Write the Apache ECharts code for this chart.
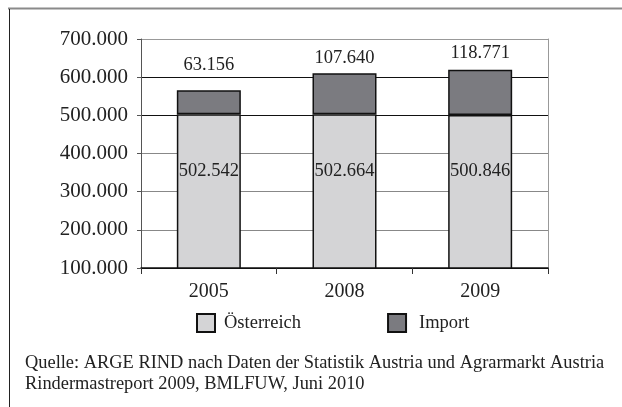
<!DOCTYPE html>
<html>
<head>
<meta charset="utf-8">
<script src="https://cdn.jsdelivr.net/npm/echarts@6/dist/echarts.min.js"></script>
<style>
html,body{margin:0;padding:0;background:#fff;}
#c{width:622px;height:407px;}
</style>
</head>
<body>
<div id="c"></div>
<script>
var categories = ['2005', '2008', '2009'];
var oesterreich = [502542, 502664, 500846];
var importe = [63156, 107640, 118771];
var yMin = 100000, yMax = 700000, yStep = 100000;
var seriesNames = ['Österreich', 'Import'];
var sourceLines = [
  'Quelle: ARGE RIND nach Daten der Statistik Austria und Agrarmarkt Austria',
  'Rindermastreport 2009, BMLFUW, Juni 2010'
];

function fmt(v) {
  return String(Math.round(v)).replace(/\B(?=(\d{3})+(?!\d))/g, '.');
}

var FONT = '"Liberation Serif", "Times New Roman", serif';
var importLabelDist = [16, 6, 7];

var chart = echarts.init(document.getElementById('c'), null, {renderer: 'canvas'});
chart.setOption({
  animation: false,
  backgroundColor: '#fff',
  textStyle: {fontFamily: FONT},
  grid: {left: 141, right: 74, top: 39, bottom: 139, containLabel: false},
  title: {
    text: sourceLines.join('\n'),
    left: 25, top: 353, padding: 0,
    textStyle: {fontFamily: FONT, fontSize: 18.4, fontWeight: 'normal', color: '#222', lineHeight: 21}
  },
  legend: {
    left: 196, top: 313, padding: 0,
    itemWidth: 18, itemHeight: 18, itemGap: 86,
    icon: 'rect',
    textStyle: {fontFamily: FONT, fontSize: 18.5, color: '#222'},
    data: [
      {name: seriesNames[0], textStyle: {padding: [0, 0, 0, 4]}},
      {name: seriesNames[1], textStyle: {padding: [4, 0, 0, 8]}}
    ]
  },
  xAxis: {
    type: 'category',
    data: categories,
    boundaryGap: true,
    axisLine: {lineStyle: {color: '#111', width: 1.5}},
    axisTick: {show: true, length: 6, lineStyle: {color: '#333'}},
    axisLabel: {fontFamily: FONT, fontSize: 20, color: '#222', margin: 14}
  },
  yAxis: [{
    type: 'value',
    min: yMin, max: yMax, interval: yStep,
    axisLine: {show: true, lineStyle: {color: '#555', width: 1}},
    axisTick: {show: true, length: 4, lineStyle: {color: '#555'}},
    axisLabel: {fontFamily: FONT, fontSize: 21, color: '#222', margin: 13, formatter: fmt},
    splitLine: {show: true, lineStyle: {color: ['#111', '#888', '#888', '#888', '#111', '#111', '#999'], width: 1.2}}
  }, {
    type: 'value',
    position: 'right',
    min: yMin, max: yMax, interval: yStep,
    axisLine: {show: true, lineStyle: {color: '#999', width: 1}},
    axisTick: {show: false},
    axisLabel: {show: false},
    splitLine: {show: false}
  }],
  series: [{
    name: seriesNames[0],
    type: 'bar',
    stack: 'total',
    barWidth: 64,
    data: oesterreich,
    itemStyle: {color: '#d4d4d6', borderColor: '#111', borderWidth: 1.5},
    label: {
      show: true, position: 'insideTop', distance: 47,
      fontFamily: FONT, fontSize: 18.5, color: '#222',
      formatter: function (p) { return fmt(p.value); }
    }
  }, {
    name: seriesNames[1],
    type: 'bar',
    stack: 'total',
    barWidth: 64,
    data: importe.map(function (v, i) {
      return {value: v, label: {distance: importLabelDist[i]}};
    }),
    itemStyle: {color: '#7b7b80', borderColor: '#111', borderWidth: 1.5},
    label: {
      show: true, position: 'top',
      fontFamily: FONT, fontSize: 18.5, color: '#222',
      formatter: function (p) { return fmt(p.value); }
    }
  }],
  graphic: [
    {type: 'line', shape: {x1: 8, y1: 8.5, x2: 622, y2: 8.5}, style: {stroke: '#8a8a8a', lineWidth: 2}, silent: true},
    {type: 'line', shape: {x1: 9.5, y1: 9, x2: 9.5, y2: 407}, style: {stroke: '#222', lineWidth: 1}, silent: true}
  ]
});
</script>
</body>
</html>
